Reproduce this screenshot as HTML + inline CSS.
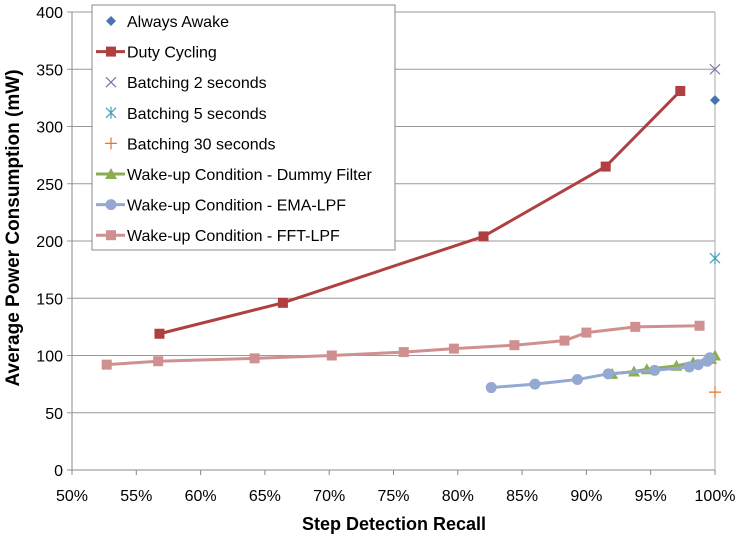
<!DOCTYPE html>
<html><head><meta charset="utf-8"><style>
body{margin:0;background:#fff;}
svg{font-family:"Liberation Sans",sans-serif;}
</style></head><body>
<svg id="chart" width="740" height="539" xmlns="http://www.w3.org/2000/svg"></svg>
<script>
const xTicks=[50,55,60,65,70,75,80,85,90,95,100];
const yTicks=[0,50,100,150,200,250,300,350,400];
const dutyX=[56.8,66.4,82,91.5,97.3];
const dutyY=[119,146,204,265,331];
const fftX=[52.7,56.7,64.2,70.2,75.8,79.7,84.4,88.3,90,93.8,98.8];
const fftY=[92,95,97.5,100,103,106,109,113,120,125,126];
const emaX=[82.6,86,89.3,91.7,95.3,98,98.7,99.4,99.6];
const emaY=[72,75,79,84,87,90,92,95,98];
const dummyX=[92,93.7,94.7,97,98.3,99.7,100];
const dummyY=[84,86,88,91,94,97,100];
const awakeX=[100],awakeY=[323];
const b2X=[100],b2Y=[350];
const b5X=[100],b5Y=[185];
const b30X=[100],b30Y=[68];
const L=72,R=715,T=12,B=470;
const sx=v=>L+(v-50)/50*(R-L);
const sy=v=>B-v/400*(B-T);
const svg=document.getElementById('chart');
const NS='http://www.w3.org/2000/svg';
function mk(tag,attrs,parent){const e=document.createElementNS(NS,tag);for(const k in attrs)e.setAttribute(k,attrs[k]);(parent||svg).appendChild(e);return e;}
yTicks.forEach(v=>{
 const g=mk('line',{x1:L-5,x2:R,y1:sy(v),y2:sy(v),stroke:v===0?'#888':'#999','stroke-width':1});
 
 
 const t=mk('text',{x:L-9,y:sy(v)+6,'text-anchor':'end','font-size':16,fill:'#000'});
 t.textContent=v;
 
 
});
const ya=mk('line',{x1:L,x2:L,y1:T,y2:B,stroke:'#888'});


const ra=mk('line',{x1:R,x2:R,y1:T,y2:B,stroke:'#aaa'});


xTicks.forEach(v=>{
 const tk=mk('line',{x1:sx(v),x2:sx(v),y1:B,y2:B+5,stroke:'#888'});
 
 
 const t=mk('text',{x:sx(v),y:B+31,'text-anchor':'middle','font-size':16,fill:'#000'});
 t.textContent=v+'%';
 
 
});
const xt=mk('text',{x:394,y:530,'text-anchor':'middle','font-size':18,'font-weight':'bold'});
xt.textContent='Step Detection Recall';


const yt=mk('text',{x:0,y:0,'text-anchor':'middle','font-size':19,'font-weight':'bold',transform:'translate(19,228) rotate(-90)'});
yt.textContent='Average Power Consumption  (mW)';


function marker(g,type,x,y,color){
 if(type==='sq')mk('rect',{x:x-5,y:y-5,width:10,height:10,fill:color},g);
 else if(type==='dia')mk('polygon',{points:`${x},${y-5} ${x+5},${y} ${x},${y+5} ${x-5},${y}`,fill:color},g);
 else if(type==='circ')mk('circle',{cx:x,cy:y,r:5.5,fill:color},g);
 else if(type==='tri')mk('polygon',{points:`${x},${y-6} ${x+6},${y+5} ${x-6},${y+5}`,fill:color},g);
 else if(type==='x'){mk('path',{d:`M${x-5},${y-5}L${x+5},${y+5}M${x-5},${y+5}L${x+5},${y-5}`,stroke:color,'stroke-width':1.2},g);}
 else if(type==='ast'){mk('path',{d:`M${x-5},${y-5}L${x+5},${y+5}M${x-5},${y+5}L${x+5},${y-5}M${x},${y-6}L${x},${y+6}`,stroke:color,'stroke-width':1.2},g);}
 else if(type==='plus'){mk('path',{d:`M${x-6},${y}L${x+6},${y}M${x},${y-6}L${x},${y+6}`,stroke:color,'stroke-width':1.2},g);}
}
function series(name,xs,ys,type,color,line){
 const g=mk('g',{});
 
 
 if(line)mk('polyline',{points:xs.map((x,i)=>sx(x)+','+sy(ys[i])).join(' '),fill:'none',stroke:color,'stroke-width':3},g);
 xs.forEach((x,i)=>marker(g,type,sx(x),sy(ys[i]),color));
}
series('series-fft-lpf',fftX,fftY,'sq','#d09090',true);
series('series-duty-cycling',dutyX,dutyY,'sq','#b04040',true);
series('series-dummy-filter',dummyX,dummyY,'tri','#8cad50',true);
series('series-ema-lpf',emaX,emaY,'circ','#94a9d2',true);
series('series-always-awake',awakeX,awakeY,'dia','#4a72b0',false);
series('series-batching-2s',b2X,b2Y,'x','#8070a8',false);
series('series-batching-5s',b5X,b5Y,'ast','#40a0b8',false);
series('series-batching-30s',b30X,b30Y,'plus','#e07828',false);
const lg=mk('g',{});


mk('rect',{x:92,y:5,width:303,height:245,fill:'#fff',stroke:'#888'},lg);
const items=[['Always Awake','dia','#4a72b0',false],['Duty Cycling','sq','#b04040',true],['Batching 2 seconds','x','#8070a8',false],['Batching 5 seconds','ast','#40a0b8',false],['Batching 30 seconds','plus','#e07828',false],['Wake-up Condition - Dummy Filter','tri','#8cad50',true],['Wake-up Condition - EMA-LPF','circ','#94a9d2',true],['Wake-up Condition - FFT-LPF','sq','#d09090',true]];
items.forEach((it,i)=>{
 const y=21+i*30.6;
 const e=mk('g',{},lg);
 
 
 if(it[3])mk('line',{x1:96,x2:125,y1:y,y2:y,stroke:it[2],'stroke-width':3},e);
 marker(e,it[1],111,y,it[2]);
 const t=mk('text',{x:127,y:y+6,'font-size':16},e);
 t.textContent=it[0];
});
</script>
</body></html>
